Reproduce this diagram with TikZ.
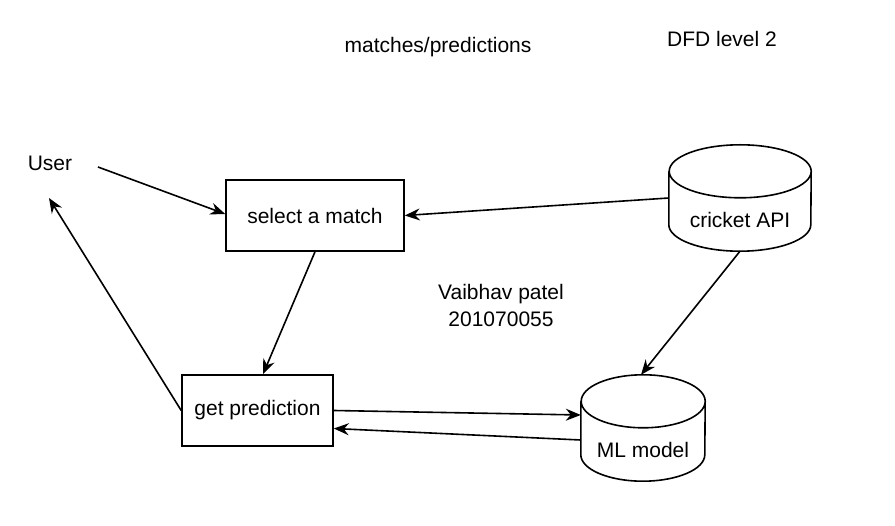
\documentclass[tikz,border=0pt]{standalone}
\usepackage{fontspec}
\setmainfont{Liberation Sans}
\usetikzlibrary{arrows.meta}
\tikzset{
  proc/.style={draw,line width=1.6pt,minimum width=178pt,minimum height=71pt,inner sep=0pt},
  store/.style={minimum height=106pt,inner sep=0pt,label={[yshift=-22pt]center:#1}},
  drum/.style={line width=1.6pt,line join=round},
  flow/.style={line width=1.6pt,-{Stealth[length=15pt,width=12pt,inset=5pt]}},
}
% outline of a data store drawn round node #1, half width #2
\newcommand{\drum}[2]{%
\draw[drum] ([yshift=-26.5pt]#1.north west) -- ([yshift=26.5pt]#1.south west)
  arc[start angle=180,end angle=360,x radius=#2,y radius=26.5pt]
  -- ([yshift=-26.5pt]#1.north east)
  arc[start angle=0,end angle=180,x radius=#2,y radius=26.5pt]
  arc[start angle=180,end angle=360,x radius=#2,y radius=26.5pt];}
\begin{document}
\begin{tikzpicture}[x=1pt,y=-1pt,font=\fontsize{21pt}{27pt}\selectfont]
\useasboundingbox (0,0) rectangle (895,526);

\node (title) at (438,47)  {matches/predictions};
\node (level) at (722,39)  {DFD level 2};
\node (user)  at (50,163)  {User};
\node[align=center] (name) at (501,305) {Vaibhav patel\\201070055};

\node[proc] (select) at (315,215.5) {select a match};
\node[proc,minimum width=151pt] (getpred) at (257.5,410.5) {get prediction};

\node[store=cricket API,minimum width=142pt] (api) at (740,198) {};
\node[store=ML model,minimum width=124pt] (model) at (643,428) {};
\drum{api}{71pt}
\drum{model}{62pt}

\draw [flow] ([xshift=48pt,yshift=-4pt]user.center) -- ([yshift=1.5pt]select.west);
\draw [flow] (api.west) -- (select.east);
\draw [flow] (select.south) -- ([xshift=5.5pt]getpred.north);
\draw [flow] (api.south) -- ([xshift=-2pt]model.north);
\draw [flow] (getpred.east) -- ([yshift=13pt]model.west);
\draw [flow] ([yshift=-12pt]model.west) -- ([yshift=-18pt]getpred.east);
\draw [flow] (getpred.west) -- ([yshift=-35pt,xshift=-1pt]user.center);
\end{tikzpicture}
\end{document}
